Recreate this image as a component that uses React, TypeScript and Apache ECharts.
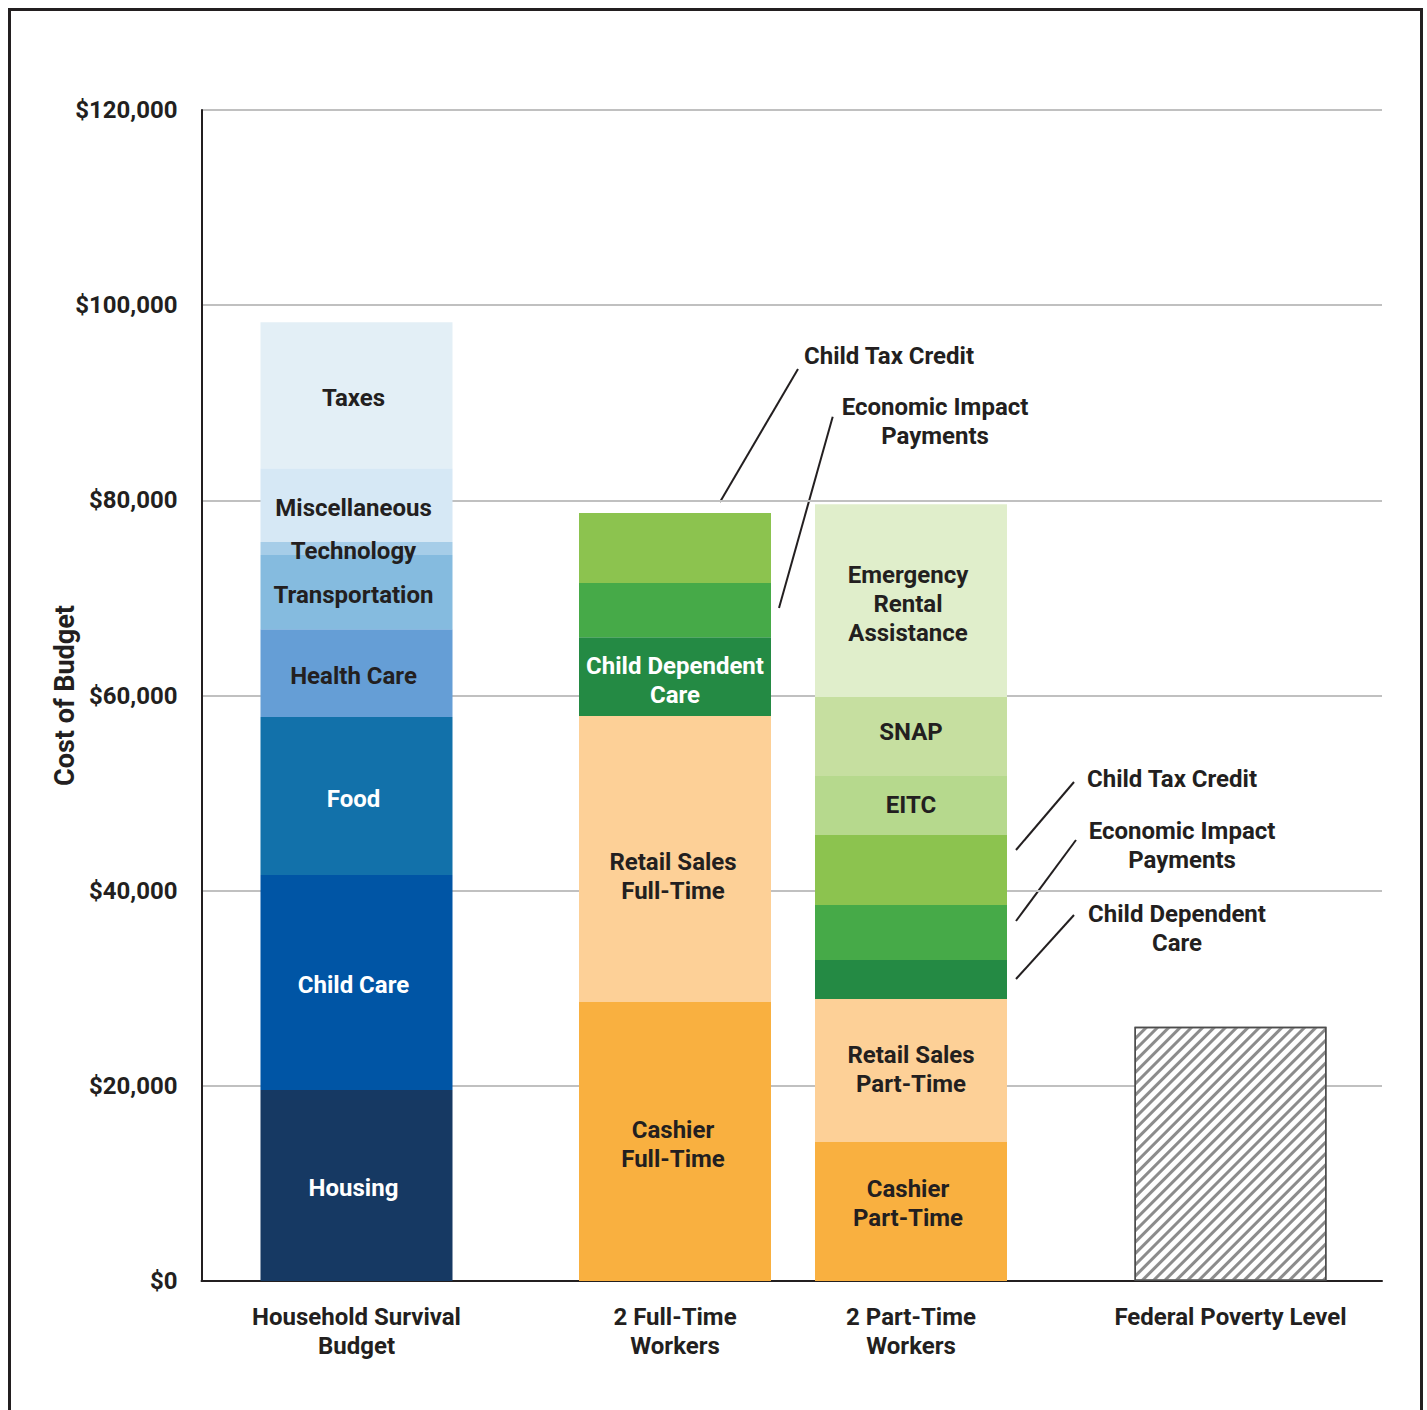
import React, { useEffect, useRef } from "react";
import * as echarts from "echarts";

// ---------------- data ----------------
const categories = [
  "Household Survival\nBudget",
  "2 Full-Time\nWorkers",
  "2 Part-Time\nWorkers",
  "Federal Poverty Level",
];

const budgetItems = [
  "Housing",
  "Child Care",
  "Food",
  "Health Care",
  "Transportation",
  "Technology",
  "Miscellaneous",
  "Taxes",
];
const budgetValues = [19570, 22030, 16190, 9010, 7590, 1330, 7580, 14960];

const fullTimeItems = [
  "Cashier\nFull-Time",
  "Retail Sales\nFull-Time",
  "Child Dependent\nCare",
  "Economic Impact Payments",
  "Child Tax Credit",
];
const fullTimeValues = [28590, 29300, 8090, 5540, 7170];

const partTimeItems = [
  "Cashier\nPart-Time",
  "Retail Sales\nPart-Time",
  "Child Dependent Care",
  "Economic Impact Payments",
  "Child Tax Credit",
  "EITC",
  "SNAP",
  "Emergency\nRental\nAssistance",
];
const partTimeValues = [14240, 14650, 4000, 5630, 7180, 6040, 8100, 19770];

const povertyItems = ["Federal Poverty Level"];
const povertyValues = [26050];

const yMin = 0;
const yMax = 120000;
const yStep = 20000;

// ---------------- layout / style ----------------
const TEXT = "#231f20";
const FONT = "Roboto";
const CAT_POS = [155, 473.5, 709.5, 1029]; // bar centres on the hidden x scale
const X_SPAN = 1180.5;
const BAR_W = 192;

const groups = [
  {
    items: budgetItems,
    values: budgetValues,
    colors: ["#163963", "#0055a5", "#1271aa", "#659ed6", "#85bbdf", "#a6cde8", "#d6e8f5", "#e3eff6"],
    textColors: ["#ffffff", "#ffffff", "#ffffff", TEXT, TEXT, TEXT, TEXT, TEXT],
    show: [true, true, true, true, true, true, true, true],
    offsets: [[-3, 2], [-3, 2], [-3, 3], [-3, 3], [-3, 3], [-3, 2], [-3, 3], [-3, 3]],
  },
  {
    items: fullTimeItems,
    values: fullTimeValues,
    colors: ["#f9b040", "#fdd097", "#248a44", "#46aa48", "#8cc34f"],
    textColors: [TEXT, TEXT, "#ffffff", TEXT, TEXT],
    show: [true, true, true, false, false],
    offsets: [[-2, 3], [-2, 17], [0, 4], [0, 0], [0, 0]],
  },
  {
    items: partTimeItems,
    values: partTimeValues,
    colors: ["#f9b040", "#fdd097", "#248a44", "#46aa48", "#8cc34f", "#b6d98d", "#c6dfa0", "#e0eecb"],
    textColors: [TEXT, TEXT, TEXT, TEXT, TEXT, TEXT, TEXT, TEXT],
    show: [true, true, false, false, false, true, true, true],
    offsets: [[-3, -8], [0, -1], [0, 0], [0, 0], [0, 0], [0, -1], [0, -5], [-3, 3]],
  },
  {
    items: povertyItems,
    values: povertyValues,
    colors: ["#ffffff"],
    textColors: [TEXT],
    show: [false],
    offsets: [[0, 0]],
  },
];

// annotation callouts (chart pixel coordinates)
const callouts = [
  { text: "Child Tax Credit", x: 793, y: 345, align: "left", line: [787, 358, 709, 491] },
  { text: "Economic Impact\nPayments", x: 924, y: 410.5, align: "center", line: [821.7, 405.7, 768, 597] },
  { text: "Child Tax Credit", x: 1076, y: 768, align: "left", line: [1063, 771, 1005, 839] },
  { text: "Economic Impact\nPayments", x: 1171, y: 834.5, align: "center", line: [1065, 829, 1005, 910] },
  { text: "Child Dependent\nCare", x: 1166, y: 917.5, align: "center", line: [1063, 904, 1005, 968] },
];

function buildOption() {
  const series: any[] = [];
  groups.forEach((g, gi) => {
    g.items.forEach((label, k) => {
      const isPoverty = gi === 3;
      series.push({
        type: "bar",
        name: label.replace(/\n/g, " "),
        stack: "total",
        barWidth: BAR_W,
        encode: { x: 1, y: 0 },
        data: CAT_POS.map((x, i) => [i === gi ? g.values[k] : "-", x]),
        itemStyle: isPoverty
          ? {
              color: g.colors[k],
              borderColor: "#4d4d4d",
              borderWidth: 1.5,
              decal: {
                symbol: "rect",
                symbolSize: 1,
                dashArrayX: [1, 0],
                dashArrayY: [3, 5],
                rotation: -Math.PI / 4,
                color: "#8c8c8c",
              },
            }
          : { color: g.colors[k] },
        label: {
          show: g.show[k],
          position: "inside",
          formatter: label,
          color: g.textColors[k],
          fontSize: 24,
          fontWeight: "bold",
          fontFamily: FONT,
          lineHeight: 29,
          align: "center",
          offset: g.offsets[k],
        },
        emphasis: { disabled: true },
        silent: true,
      });
    });
  });

  const graphic: any[] = [];
  callouts.forEach((c) => {
    graphic.push({
      type: "line",
      shape: { x1: c.line[0], y1: c.line[1], x2: c.line[2], y2: c.line[3] },
      style: { stroke: TEXT, lineWidth: 2 },
      silent: true,
    });
    graphic.push({
      type: "text",
      x: c.x,
      y: c.y,
      style: {
        text: c.text,
        fill: TEXT,
        fontSize: 24,
        fontWeight: "bold",
        fontFamily: FONT,
        lineHeight: 29,
        align: c.align,
        verticalAlign: "middle",
        textAlign: c.align,
        textVerticalAlign: "middle",
      },
      silent: true,
    });
  });

  return {
    animation: false,
    backgroundColor: "#ffffff",
    grid: { left: 190.5, right: 38, top: 99, bottom: 121, containLabel: false, outerBoundsMode: "none" },
    xAxis: {
      type: "value",
      min: 0,
      max: X_SPAN,
      axisLine: { show: true, onZero: false, lineStyle: { color: TEXT, width: 2 } },
      axisTick: { show: false },
      splitLine: { show: false },
      axisLabel: {
        customValues: CAT_POS,
        formatter: (v: number) => {
          const idx = CAT_POS.findIndex((p) => Math.abs(p - v) < 0.01);
          return idx >= 0 ? categories[idx] : "";
        },
        color: TEXT,
        fontSize: 24,
        fontWeight: "bold",
        fontFamily: FONT,
        lineHeight: 29,
        margin: 21,
        align: "center",
      },
    },
    yAxis: {
      type: "value",
      min: yMin,
      max: yMax,
      interval: yStep,
      name: "Cost of Budget",
      nameLocation: "middle",
      nameRotate: 90,
      nameGap: 123,
      nameMoveOverlap: false,
      nameTextStyle: { color: TEXT, fontSize: 27, fontWeight: "bold", fontFamily: FONT },
      axisLine: { show: true, lineStyle: { color: TEXT, width: 2 } },
      axisTick: { show: false },
      splitLine: { show: true, lineStyle: { color: "#c0c0c0", width: 2 } },
      axisLabel: {
        formatter: (v: number) => "$" + v.toLocaleString("en-US"),
        color: TEXT,
        fontSize: 24,
        fontWeight: "bold",
        fontFamily: FONT,
        margin: 24,
      },
    },
    series,
    graphic,
  };
}

export default function App() {
  const ref = useRef<HTMLDivElement>(null);
  useEffect(() => {
    if (!ref.current) return;
    const chart = echarts.init(ref.current, undefined, { renderer: "svg" });
    chart.setOption(buildOption() as any);
    return () => chart.dispose();
  }, []);
  return (
    <div
      style={{
        position: "fixed",
        left: 8,
        top: 8,
        width: 1415,
        height: 1402,
        overflow: "hidden",
      }}
    >
      <div
        style={{
          boxSizing: "border-box",
          width: 1415,
          height: 1500,
          border: `3px solid ${TEXT}`,
          background: "#ffffff",
        }}
      >
        <div ref={ref} style={{ width: 1409, height: 1391 }} />
      </div>
    </div>
  );
}
